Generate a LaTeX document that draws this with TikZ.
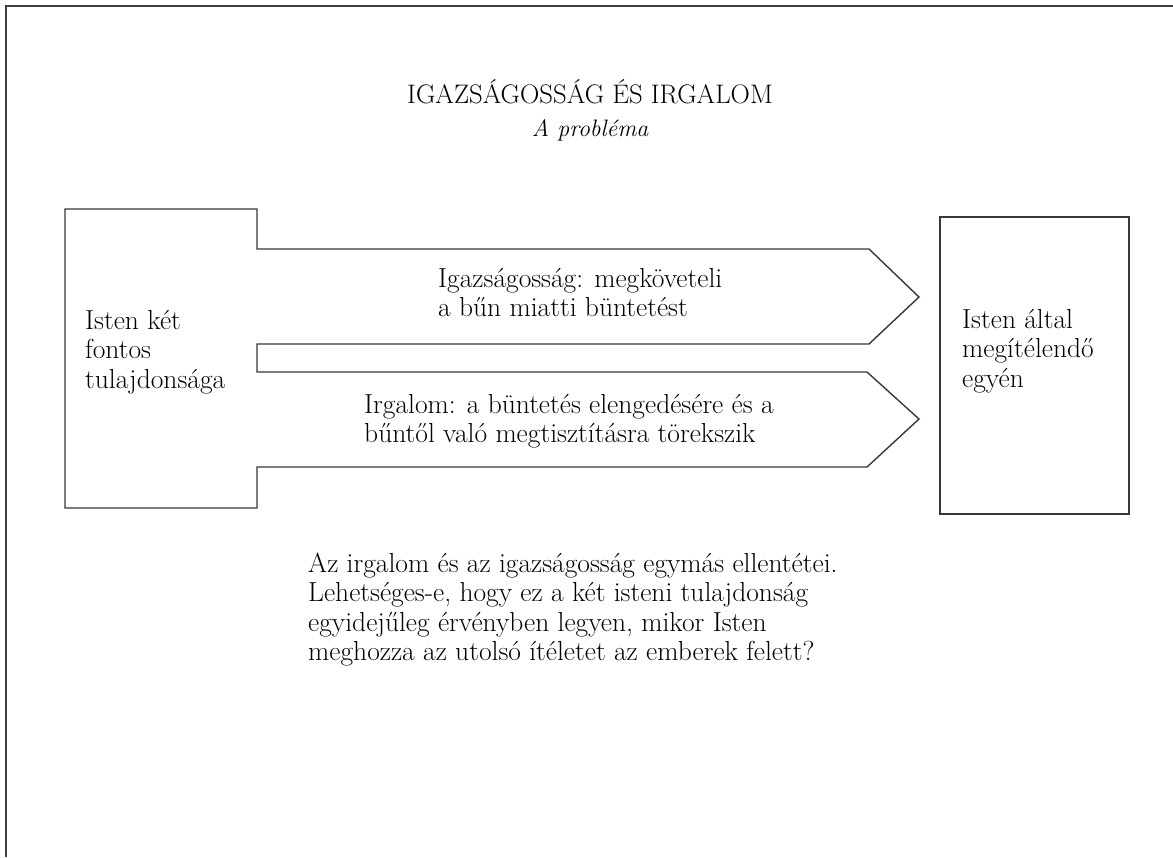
\documentclass[tikz,border=0pt]{standalone}
\usepackage{fontspec}
\begin{document}
\begin{tikzpicture}[x=1pt,y=-1pt,
  frameline/.style={draw=black!75,line width=2pt},
  shapeline/.style={draw=black!78,line width=1.4pt,line join=miter},
  bodytext/.style={inner sep=0pt,anchor=base west,align=left,text=black,
    font=\fontsize{27.5}{29.5}\selectfont},
  titletext/.style={inner sep=0pt,anchor=base,text=black,
    font=\fontsize{26.8}{29.5}\selectfont}]
\useasboundingbox (0,0) rectangle (1173,857);
% frame (top and left sides)
\draw[frameline] (6,857) -- (6,6) -- (1173,6);
% title
\node[titletext] (title) at (590,103) {IGAZSÁGOSSÁG ÉS IRGALOM};
\node[titletext,font=\fontsize{23.8}{29.5}\selectfont\itshape] (sub) at (590,136) {A probléma};
% left box with two arrows
\draw[shapeline] (65,209) -- (257,209) -- (257,249) -- (869,249) -- (919,297)
  -- (869,344) -- (257,344) -- (257,372) -- (867,372) -- (919,419)
  -- (867,467) -- (257,467) -- (257,508) -- (65,508) -- cycle;
% right box
\draw[shapeline] (940,217) rectangle (1129,514);
% texts (anchor = baseline of the last line)
\node[bodytext] (left) at (85,388) {Isten két\\fontos\\tulajdonsága};
\node[bodytext] (right) at (962,387) {Isten által\\megítélendő\\egyén};
\node[bodytext] (just) at (438,316.5) {Igazságosság: megköveteli\\a bűn miatti büntetést};
\node[bodytext] (mercy) at (364,442.5) {Irgalom: a büntetés elengedésére és a\\bűntől való megtisztításra törekszik};
\node[bodytext] (para) at (308,660.5) {Az irgalom és az igazságosság egymás ellentétei.\\Lehetséges-e, hogy ez a két isteni tulajdonság\\egyidejűleg érvényben legyen, mikor Isten\\meghozza az utolsó ítéletet az emberek felett?};
\end{tikzpicture}
\end{document}
